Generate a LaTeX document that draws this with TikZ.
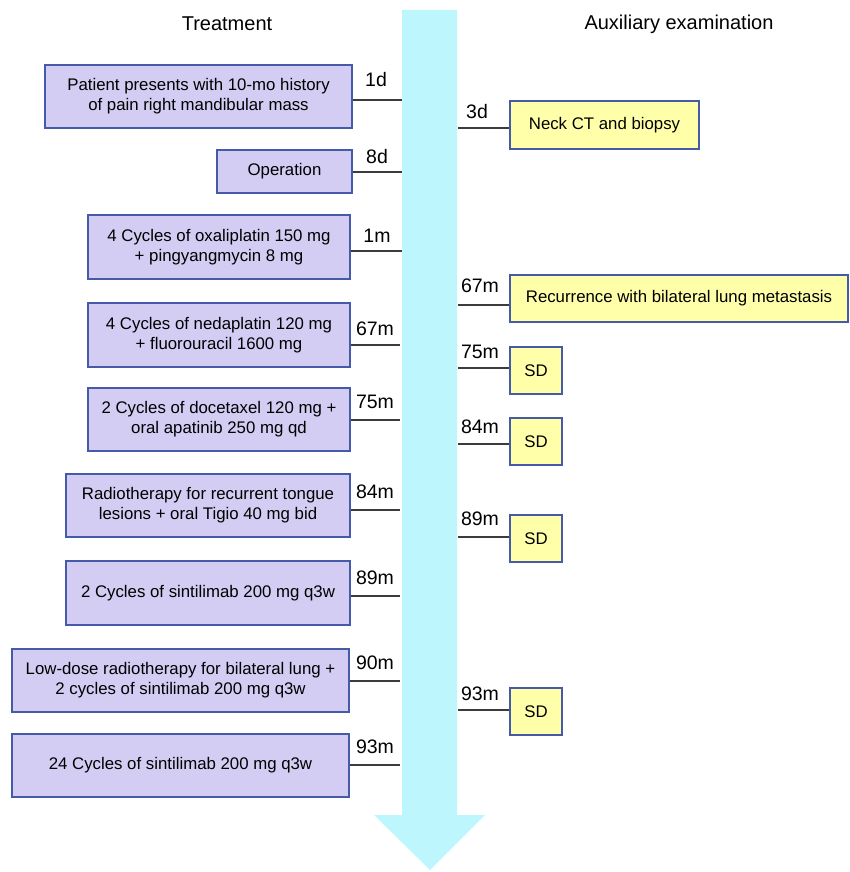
\documentclass[tikz,border=0pt]{standalone}
\usepackage{fontspec}
\setmainfont{Liberation Sans}
\definecolor{arrowcyan}{RGB}{189,247,253}
\definecolor{purplefill}{RGB}{211,204,243}
\definecolor{yellowfill}{RGB}{255,255,170}
\definecolor{boxborder}{RGB}{70,90,170}
\definecolor{linegray}{RGB}{60,60,60}
\tikzset{
  treat/.style={draw=boxborder, line width=1.2pt, fill=purplefill, inner sep=0pt, align=center, font=\fontsize{16.8}{20}\selectfont},
  exam/.style={draw=boxborder, line width=1.2pt, fill=yellowfill, inner sep=0pt, align=center, font=\fontsize{16.8}{20}\selectfont},
  tick/.style={draw=linegray, line width=1.2pt},
  tlabel/.style={font=\fontsize{19.5}{22}\selectfont, inner sep=0pt},
  header/.style={font=\fontsize{20}{23}\selectfont, inner sep=0pt}
}
\begin{document}
\begin{tikzpicture}[x=1pt,y=-1pt]
\useasboundingbox (0,0) rectangle (849,872);
% timeline arrow
\fill[arrowcyan] (402,10) -- (457,10) -- (457,815) -- (485,815) -- (430,870) -- (374,815) -- (402,815) -- cycle;
% headers
\node[header] (hT) at (227,24) {Treatment};
\node[header] (hA) at (679,24) {Auxiliary examination};
% treatment boxes
\node[treat, minimum width=307pt, minimum height=63pt] (t1) at (198.5,96.5) {Patient presents with 10-mo history\\of pain right mandibular mass};
\node[treat, minimum width=135pt, minimum height=43pt] (t2) at (284.5,171.5) {Operation};
\node[treat, minimum width=262pt, minimum height=64pt] (t3) at (219,247) {4 Cycles of oxaliplatin 150 mg\\+ pingyangmycin 8 mg};
\node[treat, minimum width=262pt, minimum height=64pt] (t4) at (219,335) {4 Cycles of nedaplatin 120 mg\\+ fluorouracil 1600 mg};
\node[treat, minimum width=262pt, minimum height=63pt] (t5) at (219,419.5) {2 Cycles of docetaxel 120 mg +\\oral apatinib 250 mg qd};
\node[treat, minimum width=284pt, minimum height=63pt] (t6) at (208,505.5) {Radiotherapy for recurrent tongue\\lesions + oral Tigio 40 mg bid};
\node[treat, minimum width=284pt, minimum height=64pt] (t7) at (208,593) {2 Cycles of sintilimab 200 mg q3w};
\node[treat, minimum width=337pt, minimum height=63pt] (t8) at (180.5,680.5) {Low-dose radiotherapy for bilateral lung +\\2 cycles of sintilimab 200 mg q3w};
\node[treat, minimum width=337pt, minimum height=63pt] (t9) at (180.5,765.5) {24 Cycles of sintilimab 200 mg q3w};
% exam boxes
\node[exam, minimum width=189pt, minimum height=48pt] (e1) at (604.5,125) {Neck CT and biopsy};
\node[exam, minimum width=338pt, minimum height=47pt] (e2) at (679,298.5) {Recurrence with bilateral lung metastasis};
\node[exam, minimum width=52pt, minimum height=47pt] (e3) at (536,370.5) {SD};
\node[exam, minimum width=52pt, minimum height=47pt] (e4) at (536,441.5) {SD};
\node[exam, minimum width=52pt, minimum height=47pt] (e5) at (536,538.5) {SD};
\node[exam, minimum width=52pt, minimum height=47pt] (e6) at (536,711.5) {SD};
% coordinates on arrow edges
\coordinate (c1) at (402,100);
\coordinate (c2) at (402,172);
\coordinate (c3) at (402,251);
\coordinate (c4) at (400,345);
\coordinate (c5) at (400,420);
\coordinate (c6) at (400,510);
\coordinate (c7) at (400,596);
\coordinate (c8) at (400,681);
\coordinate (c9) at (400,765);
\coordinate (d1) at (458,128);
\coordinate (d2) at (458,305);
\coordinate (d3) at (458,368);
\coordinate (d4) at (458,444);
\coordinate (d5) at (458,537);
\coordinate (d6) at (458,710);
% ticks
\draw[tick] (t1.east |- c1) -- (c1);
\draw[tick] (t2.east |- c2) -- (c2);
\draw[tick] (t3.east |- c3) -- (c3);
\draw[tick] (t4.east |- c4) -- (c4);
\draw[tick] (t5.east |- c5) -- (c5);
\draw[tick] (t6.east |- c6) -- (c6);
\draw[tick] (t7.east |- c7) -- (c7);
\draw[tick] (t8.east |- c8) -- (c8);
\draw[tick] (t9.east |- c9) -- (c9);
\draw[tick] (d1) -- (e1.west |- d1);
\draw[tick] (d2) -- (e2.west |- d2);
\draw[tick] (d3) -- (e3.west |- d3);
\draw[tick] (d4) -- (e4.west |- d4);
\draw[tick] (d5) -- (e5.west |- d5);
\draw[tick] (d6) -- (e6.west |- d6);
% labels
\node[tlabel] (l1) at (376,80) {1d};
\node[tlabel] (l2) at (377,157) {8d};
\node[tlabel] (l3) at (377,236) {1m};
\node[tlabel] (l4) at (375,329) {67m};
\node[tlabel] (l5) at (375,402) {75m};
\node[tlabel] (l6) at (375,492) {84m};
\node[tlabel] (l7) at (375,578) {89m};
\node[tlabel] (l8) at (375,663) {90m};
\node[tlabel] (l9) at (375,747) {93m};
\node[tlabel] (m1) at (477,112) {3d};
\node[tlabel] (m2) at (480,286) {67m};
\node[tlabel] (m3) at (480,352) {75m};
\node[tlabel] (m4) at (480,427) {84m};
\node[tlabel] (m5) at (480,519) {89m};
\node[tlabel] (m6) at (480,694) {93m};
\end{tikzpicture}
\end{document}
